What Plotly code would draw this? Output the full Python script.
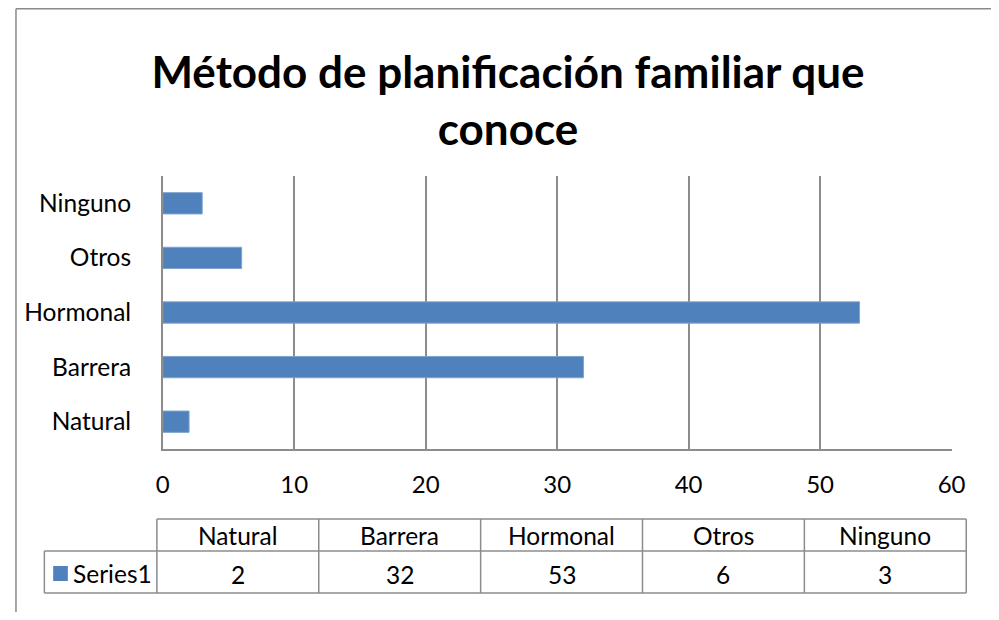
import plotly.graph_objects as go

categories = ["Natural", "Barrera", "Hormonal", "Otros", "Ninguno"]
values = [2, 32, 53, 6, 3]
series_name = "Series1"
title_text = "Método de planificación familiar que<br>conoce"
x_ticks = [0, 10, 20, 30, 40, 50, 60]

# page is 999x620; the html body has an 8px margin, so the figure is 983x604
OFF = 8
W, H = 999 - 2 * OFF, 620 - 2 * OFF
FONT = "Lato, Calibri, sans-serif"
BAR = "#4F81BD"
GRID = "#8C8C8C"


def px(x):
    return (x - OFF) / W


def py(y):
    return 1 - (y - OFF) / H


fig = go.Figure()
fig.add_trace(go.Bar(
    y=categories, x=values, orientation="h", name=series_name,
    marker=dict(color=BAR, line=dict(color="#7FA2CF", width=1)),
    width=0.39, showlegend=False, hoverinfo="x+y",
))

shapes = []
annotations = []

# outer chart border (left and top visible)
shapes.append(dict(type="line", xref="paper", yref="paper", x0=px(9), x1=px(9), y0=py(8.7), y1=py(640),
                   line=dict(color="#8A8A8A", width=1.5)))
shapes.append(dict(type="line", xref="paper", yref="paper", x0=px(9), x1=px(1020), y0=py(8.7), y1=py(8.7),
                   line=dict(color="#8A8A8A", width=1.5)))

# data table
col_edges = [153 + i * (980 - 153) / len(categories) for i in range(len(categories) + 1)]
top_y, mid_y, bot_y = 519, 551, 593
left_x = 38
lw = dict(color=GRID, width=1.5)
shapes.append(dict(type="line", xref="paper", yref="paper", x0=px(col_edges[0]), x1=px(col_edges[-1]),
                   y0=py(top_y), y1=py(top_y), line=lw))
shapes.append(dict(type="line", xref="paper", yref="paper", x0=px(left_x), x1=px(col_edges[-1]),
                   y0=py(mid_y), y1=py(mid_y), line=lw))
shapes.append(dict(type="line", xref="paper", yref="paper", x0=px(left_x), x1=px(col_edges[-1]),
                   y0=py(bot_y), y1=py(bot_y), line=lw))
shapes.append(dict(type="line", xref="paper", yref="paper", x0=px(left_x), x1=px(left_x),
                   y0=py(mid_y), y1=py(bot_y), line=lw))
for xe in col_edges:
    shapes.append(dict(type="line", xref="paper", yref="paper", x0=px(xe), x1=px(xe),
                       y0=py(top_y), y1=py(bot_y), line=lw))
# legend key
shapes.append(dict(type="rect", xref="paper", yref="paper", x0=px(47), x1=px(62), y0=py(566), y1=py(581),
                   fillcolor=BAR, line=dict(width=0)))
annotations.append(dict(xref="paper", yref="paper", x=px(65), y=py(573), text=series_name, showarrow=False,
                        xanchor="left", yanchor="middle", font=dict(family=FONT, size=24.5, color="#000")))
for i, (c, v) in enumerate(zip(categories, values)):
    cx = (col_edges[i] + col_edges[i + 1]) / 2
    annotations.append(dict(xref="paper", yref="paper", x=px(cx), y=py(535), text=c, showarrow=False,
                            xanchor="center", yanchor="middle", font=dict(family=FONT, size=24.5, color="#000")))
    annotations.append(dict(xref="paper", yref="paper", x=px(cx), y=py(574), text=str(v), showarrow=False,
                            xanchor="center", yanchor="middle", font=dict(family=FONT, size=24.5, color="#000")))

fig.update_layout(
    width=W, height=H, margin=dict(l=0, r=0, t=0, b=0),
    paper_bgcolor="white", plot_bgcolor="white",
    title=dict(text=title_text, x=px(508), xanchor="center", y=py(88), yanchor="middle",
               font=dict(family=FONT, size=44, color="#000", weight="bold")),
    xaxis=dict(domain=[px(159), px(965)], range=[0, 60], tickvals=x_ticks, showgrid=True, gridcolor=GRID,
               gridwidth=1.5, showline=True, linecolor=GRID, linewidth=1.5, zeroline=False,
               ticks="", ticklabelstandoff=13, tickfont=dict(family=FONT, size=24, color="#000"),
               fixedrange=True),
    yaxis=dict(domain=[py(449), py(176)], categoryorder="array", categoryarray=categories,
               showline=True, linecolor=GRID, linewidth=1.5, showgrid=False, ticks="",
               ticklabelstandoff=25, tickfont=dict(family=FONT, size=24.5, color="#000"), fixedrange=True),
    shapes=shapes, annotations=annotations, bargap=0.61,
)

fig.write_html("out.html")
